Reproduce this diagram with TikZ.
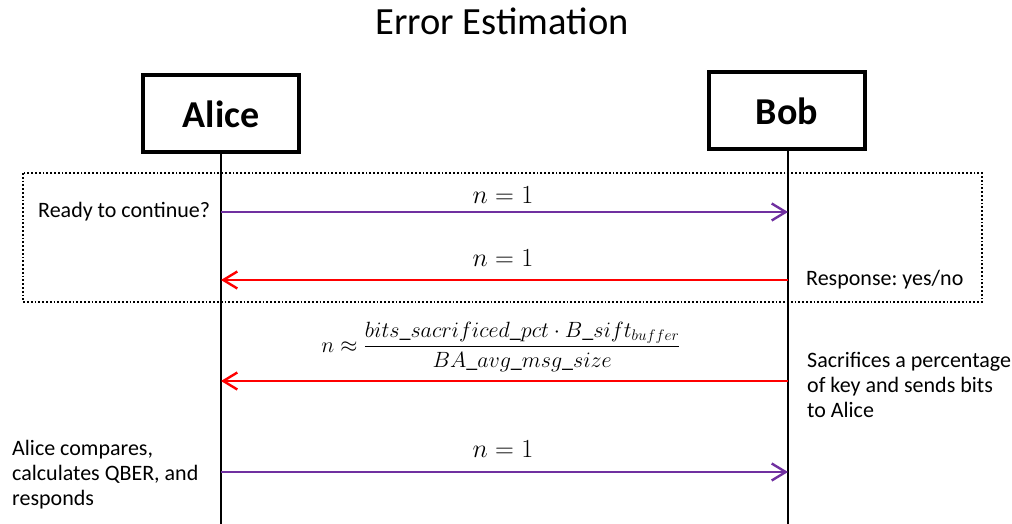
\documentclass[tikz,border=0pt]{standalone}
\usepackage{amsmath}
\usepackage{fontspec}
\setmainfont{Carlito}
\usetikzlibrary{arrows.meta}
\definecolor{msgpurple}{HTML}{7030A0}
\definecolor{msgred}{HTML}{FF0000}
\frenchspacing
\tikzset{
  actor/.style={draw=black, line width=4pt, minimum width=156pt, minimum height=77pt,
                font=\fontsize{38}{44}\selectfont\bfseries, inner sep=0pt},
  lifeline/.style={draw=black, line width=1.8pt},
  msgtip/.style={-{Straight Barb[length=14pt,width=17pt,line width=2.4pt]}},
  fwdmsg/.style={msgtip, draw=msgpurple, line width=2.6pt},
  backmsg/.style={msgtip, draw=msgred, line width=2.4pt},
  note/.style={font=\fontsize{22}{25}\selectfont, inner sep=0pt, align=left},
  msglabel/.style={font=\fontsize{24.88}{30}\selectfont, inner sep=0pt, scale=1.05, transform shape},
  formula/.style={font=\fontsize{20.74}{25}\selectfont, inner sep=0pt, scale=1.064, transform shape},
  groupframe/.style={draw=black, line width=1.8pt, dotted}
}
\begin{document}
\begin{tikzpicture}[x=1pt, y=-1pt]
  \useasboundingbox (0,0) rectangle (1012,524);

  % title
  \node[font=\fontsize{38.5}{46}\selectfont, anchor=base] (title) at (502,35) {Error Estimation};

  % participants
  \node[actor] (alice) at (221,114) {Alice};
  \node[actor] (bob) at (787,111) {Bob};

  % lifeline ends
  \coordinate (aliceEnd) at (221,524);
  \coordinate (bobEnd) at (788,524);
  \draw[lifeline] (alice.south) -- (aliceEnd);
  \draw[lifeline] (bob.south -| bobEnd) -- (bobEnd);

  % message endpoints on the lifelines
  \coordinate (a1) at (221,212); \coordinate (b1) at (788,212);
  \coordinate (a2) at (221,280); \coordinate (b2) at (788,280);
  \coordinate (a3) at (221,381); \coordinate (b3) at (788,381);
  \coordinate (a4) at (221,472); \coordinate (b4) at (788,472);

  % dotted group around the handshake
  \draw[groupframe] (23,173) rectangle (982,302);

  % messages
  \draw[fwdmsg] (a1) -- (b1);
  \draw[backmsg] (b2) -- (a2);
  \draw[backmsg] (b3) -- (a3);
  \draw[fwdmsg] (a4) -- (b4);

  % message labels
  \node[msglabel, anchor=base] (l1) at (503,203) {$n = 1$};
  \node[msglabel, anchor=base] (l2) at (503,266) {$n = 1$};
  \node[formula] (l3) at (501,347)
    {$n \approx \dfrac{bits\_sacrificed\_pct \cdot B\_sift_{buffer}}{BA\_avg\_msg\_size}$};
  \node[msglabel, anchor=base] (l4) at (503,457) {$n = 1$};

  % side notes
  \node[note, anchor=base west] (n1) at (38,217) {Ready to continue?};
  \node[note, anchor=base west] (n2) at (806,285) {Response: yes/no};
  \node[note, anchor=north west] (n3) at (807,352)
    {Sacrifices a percentage\\of key and sends bits\\to Alice};
  \node[note, anchor=north west] (n4) at (12,440)
    {Alice compares,\\calculates QBER, and\\responds};
\end{tikzpicture}
\end{document}
